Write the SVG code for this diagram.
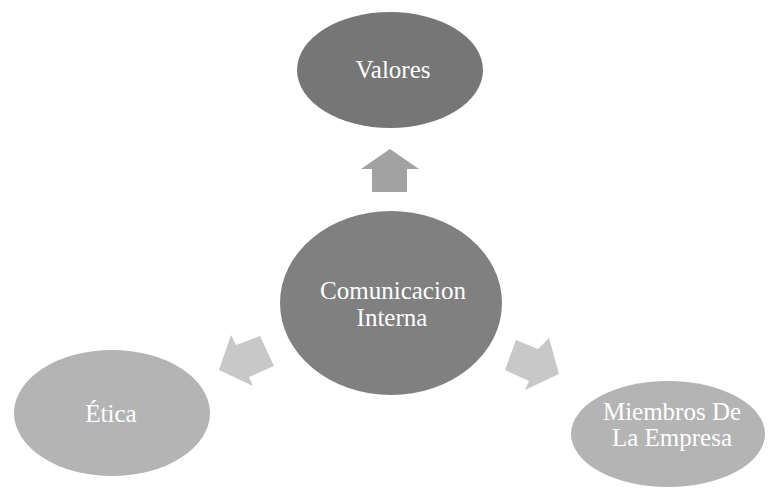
<svg xmlns="http://www.w3.org/2000/svg" width="769" height="488" viewBox="0 0 769 488">
<style>
.lbl{font-family:'Liberation Serif','DejaVu Serif',serif;font-size:25px;fill:#ffffff;text-anchor:middle}
.dark{fill:#767676}
.mid{fill:#808080}
.light{fill:#b4b4b4}
.arrowUp{fill:#a2a2a2}
.arrowSide{fill:#c8c8c8}
</style>
<rect width="769" height="488" fill="#ffffff"/>
<g id="connectors">
<polygon class="arrowUp" points="390,149 419,169 407,169 407,192 372,192 372,169 361,169"/>
<polygon class="arrowSide" points="219,370 231,335 236,345 260,336 274,366 249,377 253,386"/>
<polygon class="arrowSide" points="505,370 516,340 538,349 549,338 559,374 525,390 529,381"/>
</g>
<g id="valores">
<ellipse class="dark" cx="390" cy="70" rx="93" ry="58"/>
<text class="lbl" font-family="Liberation Serif, serif" x="393" y="78">Valores</text>
</g>
<g id="comunicacion">
<ellipse class="mid" cx="391" cy="303" rx="111" ry="92"/>
<text class="lbl" font-family="Liberation Serif, serif" x="393" y="299">Comunicacion</text>
<text class="lbl" font-family="Liberation Serif, serif" x="392" y="326">Interna</text>
</g>
<g id="etica">
<ellipse class="light" cx="112" cy="413" rx="98" ry="63"/>
<text class="lbl" font-family="Liberation Serif, serif" x="111" y="422">Ética</text>
</g>
<g id="miembros">
<ellipse class="light" cx="668" cy="434" rx="97" ry="53"/>
<text class="lbl" font-family="Liberation Serif, serif" x="672" y="420">Miembros De</text>
<text class="lbl" font-family="Liberation Serif, serif" x="672" y="446">La Empresa</text>
</g>
</svg>
